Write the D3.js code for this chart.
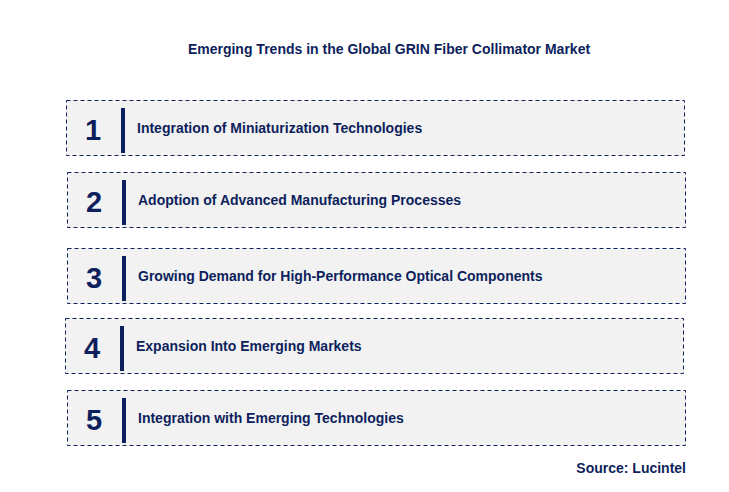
<!DOCTYPE html><html><head><script src="https://cdn.jsdelivr.net/npm/d3@7"></script>
<style>body{margin:0;background:#fff}</style></head><body><svg id="c" width="729" height="492"></svg>
<script>
const numbers=["1","2","3","4","5"];
const trends=["Integration of Miniaturization Technologies","Adoption of Advanced Manufacturing Processes","Growing Demand for High-Performance Optical Components","Expansion Into Emerging Markets","Integration with Emerging Technologies"];
const boxX=[66,67,67,65,67];
const boxY=[100,172,248,318,390];
const svg=d3.select("#c");
const navy="#0d1f5c";
svg.append("text").attr("x",389).attr("y",54).attr("text-anchor","middle").attr("font-family","Arial, Liberation Sans").attr("font-weight","bold").attr("font-size",14).attr("fill",navy).text("Emerging Trends in the Global GRIN Fiber Collimator Market");
const g=svg.selectAll("g.r").data(trends).enter().append("g").attr("transform",(d,i)=>`translate(${boxX[i]},${boxY[i]})`);
g.append("rect").attr("x",0.5).attr("y",0.5).attr("width",618).attr("height",55).attr("fill","#f2f2f2").attr("stroke",navy).attr("stroke-width",1).attr("stroke-dasharray","4,3");
g.append("rect").attr("x",55).attr("y",8).attr("width",4).attr("height",45).attr("fill",navy);
g.append("text").attr("x",27).attr("y",40).attr("text-anchor","middle").attr("font-family","Arial, Liberation Sans").attr("font-weight","bold").attr("font-size",29).attr("fill",navy).text((d,i)=>numbers[i]);
g.append("text").attr("x",71).attr("y",33).attr("font-family","Arial, Liberation Sans").attr("font-weight","bold").attr("font-size",14).attr("fill",navy).text(d=>d);
svg.append("text").attr("x",686).attr("y",473).attr("text-anchor","end").attr("font-family","Arial, Liberation Sans").attr("font-weight","bold").attr("font-size",14).attr("fill",navy).text("Source: Lucintel");
</script></body></html>
